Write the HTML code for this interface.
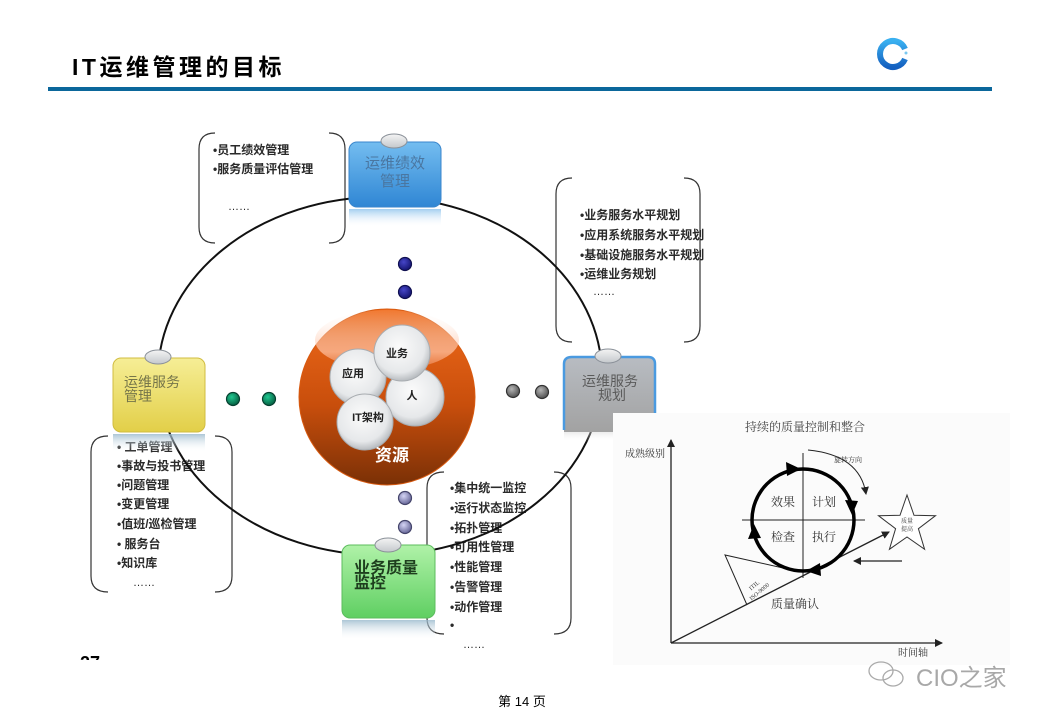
<!DOCTYPE html>
<html><head><meta charset="utf-8"><style>
html,body{margin:0;padding:0;background:#fff;}
svg{display:block;}
.cj{font-family:"Liberation Sans","Noto Sans CJK SC",sans-serif;}
.sf{font-family:"Liberation Serif","Noto Serif CJK SC",serif;}
</style></head><body>
<svg width="1040" height="720" viewBox="0 0 1040 720" xmlns="http://www.w3.org/2000/svg">
<defs>
<linearGradient id="gBlue" x1="0" y1="0" x2="0" y2="1"><stop offset="0" stop-color="#74bdf0"/><stop offset="1" stop-color="#2f86d4"/></linearGradient>
<linearGradient id="gYel" x1="0" y1="0" x2="0" y2="1"><stop offset="0" stop-color="#f6ee96"/><stop offset="1" stop-color="#e2cf48"/></linearGradient>
<linearGradient id="gGrn" x1="0" y1="0" x2="0" y2="1"><stop offset="0" stop-color="#b0f2a8"/><stop offset="1" stop-color="#5fcf62"/></linearGradient>
<linearGradient id="gGray" x1="0" y1="0" x2="0" y2="1"><stop offset="0" stop-color="#b8bcc2"/><stop offset="1" stop-color="#a2a2a2"/></linearGradient>
<linearGradient id="rBlue" x1="0" y1="0" x2="0" y2="1"><stop offset="0" stop-color="#8cc2ec" stop-opacity=".8"/><stop offset="1" stop-color="#ffffff" stop-opacity="0"/></linearGradient>
<linearGradient id="rCyan" x1="0" y1="0" x2="0" y2="1"><stop offset="0" stop-color="#98b8cc" stop-opacity=".8"/><stop offset="1" stop-color="#ffffff" stop-opacity="0"/></linearGradient>
<linearGradient id="rGray" x1="0" y1="0" x2="0" y2="1"><stop offset="0" stop-color="#a4a4a4"/><stop offset="1" stop-color="#ffffff" stop-opacity="0"/></linearGradient>
<linearGradient id="gKnob" x1="0" y1="0" x2="0" y2="1"><stop offset="0" stop-color="#f4f4f4"/><stop offset="1" stop-color="#c4c8cc"/></linearGradient>
<linearGradient id="gOrange" x1="0" y1="0" x2="0" y2="1"><stop offset="0" stop-color="#f06a1a"/><stop offset=".55" stop-color="#c84e0c"/><stop offset="1" stop-color="#7a3006"/></linearGradient>
<linearGradient id="gHi" x1="0" y1="0" x2="0" y2="1"><stop offset="0" stop-color="#ffffff" stop-opacity=".1"/><stop offset=".7" stop-color="#ffc0a0" stop-opacity=".75"/><stop offset="1" stop-color="#ffb090" stop-opacity=".3"/></linearGradient>
<radialGradient id="gBub" cx=".45" cy=".4" r=".6"><stop offset="0" stop-color="#fbfbfb"/><stop offset=".75" stop-color="#e6e8ea"/><stop offset="1" stop-color="#b8bcc0"/></radialGradient>
<radialGradient id="dNavy" cx=".4" cy=".35" r=".6"><stop offset="0" stop-color="#4646c8"/><stop offset="1" stop-color="#181878"/></radialGradient>
<radialGradient id="dGrn" cx=".4" cy=".35" r=".6"><stop offset="0" stop-color="#20c890"/><stop offset="1" stop-color="#086848"/></radialGradient>
<radialGradient id="dGray" cx=".4" cy=".35" r=".6"><stop offset="0" stop-color="#b4b4b4"/><stop offset="1" stop-color="#5a5a5a"/></radialGradient>
<radialGradient id="dLav" cx=".4" cy=".35" r=".6"><stop offset="0" stop-color="#d4d4f4"/><stop offset="1" stop-color="#7070a0"/></radialGradient>
<linearGradient id="gLogo" x1="0" y1="0" x2="0" y2="1"><stop offset="0" stop-color="#3ab0f0"/><stop offset="1" stop-color="#1460c0"/></linearGradient>
<marker id="ar" markerWidth="8" markerHeight="8" refX="7" refY="4" orient="auto" markerUnits="userSpaceOnUse"><path d="M0,0 L8,4 L0,8 z" fill="#222"/></marker>
<clipPath id="c27"><rect x="70" y="653" width="40" height="7"/></clipPath>
</defs>

<!-- Header -->
<text x="72" y="75" class="cj" font-size="23" font-weight="bold" letter-spacing="3.5" fill="#000">IT运维管理的目标</text>
<rect x="48" y="87" width="944" height="4" fill="#0b679b"/>
<path d="M905,49 A13,13 0 1 0 905,59" fill="none" stroke="url(#gLogo)" stroke-width="6"/>
<circle cx="906" cy="53" r="1.5" fill="#7ac8f0"/>

<!-- Bracket lists -->
<g fill="none" stroke="#333" stroke-width="1.2">
<path d="M215,133 Q199,133 199,149 L199,227 Q199,243 215,243"/>
<path d="M329,133 Q345,133 345,149 L345,227 Q345,243 329,243"/>
<path d="M572,178 Q556,178 556,194 L556,326 Q556,342 572,342"/>
<path d="M684,178 Q700,178 700,194 L700,326 Q700,342 684,342"/>
<path d="M108,436 Q91,436 91,452 L91,576 Q91,592 108,592"/>
<path d="M215,436 Q232,436 232,452 L232,576 Q232,592 215,592"/>
<path d="M444,472 Q427,472 427,488 L427,618 Q427,634 444,634"/>
<path d="M554,472 Q571,472 571,488 L571,618 Q571,634 554,634"/>
</g>
<g class="cj" font-size="12" font-weight="bold" fill="#2a2a2a">
<text x="213" y="154">•员工绩效管理</text>
<text x="213" y="173">•服务质量评估管理</text>
<text x="580" y="219">•业务服务水平规划</text>
<text x="580" y="239">•应用系统服务水平规划</text>
<text x="580" y="259">•基础设施服务水平规划</text>
<text x="580" y="278">•运维业务规划</text>
<text x="117" y="451">•  工单管理</text>
<text x="117" y="470">•事故与投书管理</text>
<text x="117" y="489">•问题管理</text>
<text x="117" y="508">•变更管理</text>
<text x="117" y="528">•值班/巡检管理</text>
<text x="117" y="548">•  服务台</text>
<text x="117" y="567">•知识库</text>
<text x="450" y="492">•集中统一监控</text>
<text x="450" y="512">•运行状态监控</text>
<text x="450" y="532">•拓扑管理</text>
<text x="450" y="551">•可用性管理</text>
<text x="450" y="571">•性能管理</text>
<text x="450" y="591">•告警管理</text>
<text x="450" y="611">•动作管理</text>
<text x="450" y="629">•</text>
</g>
<g font-family="Liberation Sans, sans-serif" font-size="11" fill="#222">
<text x="228" y="210">……</text>
<text x="593" y="295">……</text>
<text x="133" y="586">……</text>
<text x="463" y="648">……</text>
</g>

<!-- Big ellipse -->
<ellipse cx="380" cy="376" rx="222" ry="179" fill="none" stroke="#111" stroke-width="2"/>

<!-- Dots -->
<g stroke-width="1.2">
<circle cx="405" cy="264" r="6.5" fill="url(#dNavy)" stroke="#101050"/>
<circle cx="405" cy="292" r="6.5" fill="url(#dNavy)" stroke="#101050"/>
<circle cx="233" cy="399" r="6.5" fill="url(#dGrn)" stroke="#064030"/>
<circle cx="269" cy="399" r="6.5" fill="url(#dGrn)" stroke="#064030"/>
<circle cx="513" cy="391" r="6.5" fill="url(#dGray)" stroke="#333"/>
<circle cx="542" cy="392" r="6.5" fill="url(#dGray)" stroke="#333"/>
<circle cx="405" cy="498" r="6.5" fill="url(#dLav)" stroke="#44446a"/>
<circle cx="405" cy="527" r="6.5" fill="url(#dLav)" stroke="#44446a"/>
</g>

<!-- Central sphere -->
<circle cx="387" cy="397" r="88" fill="url(#gOrange)" stroke="#d85a10" stroke-width="1"/>
<ellipse cx="387" cy="340" rx="72" ry="30" fill="url(#gHi)"/>
<g stroke="#a8acb0" stroke-width="1">
<circle cx="415" cy="397" r="29" fill="url(#gBub)"/>
<circle cx="358" cy="377" r="28" fill="url(#gBub)"/>
<circle cx="402" cy="353" r="28" fill="url(#gBub)"/>
<circle cx="365" cy="422" r="28" fill="url(#gBub)"/>
</g>
<g class="cj" font-size="11" font-weight="bold" fill="#222" text-anchor="middle">
<text x="353" y="377">应用</text>
<text x="397" y="357">业务</text>
<text x="412" y="399">人</text>
<text x="368" y="421">IT架构</text>
</g>
<text x="392" y="461" class="cj" font-size="17" font-weight="bold" fill="#fff" text-anchor="middle">资源</text>

<!-- Blue box: 运维绩效管理 -->
<rect x="349" y="209" width="92" height="18" fill="url(#rBlue)"/>
<rect x="349" y="142" width="92" height="65" rx="8" fill="url(#gBlue)" stroke="#3a86cc" stroke-width="1"/>
<ellipse cx="394" cy="141" rx="13" ry="7" fill="url(#gKnob)" stroke="#8a9098"/>
<g class="cj" font-size="15" fill="#4a76a0" text-anchor="middle">
<text x="395" y="168">运维绩效</text>
<text x="395" y="186">管理</text>
</g>

<!-- Yellow box: 运维服务管理 -->
<rect x="113" y="434" width="92" height="18" fill="url(#rCyan)"/>
<rect x="113" y="358" width="92" height="74" rx="8" fill="url(#gYel)" stroke="#d0bc40" stroke-width="1"/>
<ellipse cx="158" cy="357" rx="13" ry="7" fill="url(#gKnob)" stroke="#8a9098"/>
<g class="cj" font-size="14" fill="#75754a">
<text x="124" y="387">运维服务</text>
<text x="124" y="401">管理</text>
</g>

<!-- Green box: 业务质量监控 -->
<rect x="342" y="620" width="93" height="20" fill="url(#rCyan)"/>
<rect x="342" y="545" width="93" height="73" rx="8" fill="url(#gGrn)" stroke="#5cbc5e" stroke-width="1"/>
<ellipse cx="388" cy="545" rx="13" ry="7" fill="url(#gKnob)" stroke="#8a9098"/>
<g class="cj" font-size="16" font-weight="bold" fill="#1e3e1e">
<text x="354" y="573">业务质量</text>
<text x="354" y="588">监控</text>
</g>

<!-- Planning box: 运维服务规划 -->
<rect x="564" y="420" width="49" height="22" fill="url(#rGray)"/>
<path d="M564,364 Q564,357 572,357 L648,357 Q655,357 655,364 L655,432 L564,432 Z" fill="url(#gGray)"/>
<path d="M564,430 L564,364 Q564,357 572,357 L648,357 Q655,357 655,364 L655,414" fill="none" stroke="#4a9ae0" stroke-width="2.5"/>
<ellipse cx="608" cy="356" rx="13" ry="7" fill="url(#gKnob)" stroke="#8a9098"/>
<g class="cj" font-size="14" fill="#5a5a5a" text-anchor="middle">
<text x="610" y="386">运维服务</text>
<text x="612" y="400">规划</text>
</g>

<!-- Chart -->
<rect x="613" y="413" width="397" height="252" fill="#fbfbfb"/>
<text x="805" y="431" class="sf" font-size="12" fill="#444" text-anchor="middle">持续的质量控制和整合</text>
<g stroke="#222" stroke-width="1.3" fill="none">
<line x1="671" y1="643" x2="671" y2="440" marker-end="url(#ar)"/>
<line x1="671" y1="643" x2="942" y2="643" marker-end="url(#ar)"/>
<line x1="671" y1="643" x2="889" y2="532" marker-end="url(#ar)"/>
<line x1="902" y1="561" x2="854" y2="561" marker-end="url(#ar)"/>
<line x1="742" y1="520" x2="865" y2="520" stroke-width="1"/>
<line x1="803" y1="453" x2="803" y2="578" stroke-width="1"/>
<path d="M747,605 L725,555 L792,570" stroke-width="1"/>
<path d="M808,450 Q860,455 866,494" stroke-width="1" marker-end="url(#ar)"/>
</g>
<circle cx="803" cy="520" r="51" fill="none" stroke="#000" stroke-width="3.5"/>
<g fill="#000">
<path d="M801,469 L786,462 L787,476 Z"/>
<path d="M852,515 L845,500 L858,501 Z"/>
<path d="M806,571 L820,563 L821,576 Z"/>
<path d="M754,524 L748,539 L761,538 Z"/>
</g>
<polygon points="907,495 914,515.3 935.5,515.7 918.4,528.7 924.6,549.3 907,537 889.4,549.3 895.6,528.7 878.5,515.7 900,515.3" fill="#fff" stroke="#333" stroke-width="1"/>
<g class="sf" fill="#333">
<text x="645" y="457" font-size="10" text-anchor="middle">成熟级别</text>
<text x="913" y="656" font-size="10" text-anchor="middle">时间轴</text>
<text x="783" y="506" font-size="12" text-anchor="middle">效果</text>
<text x="824" y="506" font-size="12" text-anchor="middle">计划</text>
<text x="783" y="541" font-size="12" text-anchor="middle">检查</text>
<text x="824" y="541" font-size="12" text-anchor="middle">执行</text>
<text x="795" y="608" font-size="12" text-anchor="middle">质量确认</text>
<text x="848" y="462" font-size="7" text-anchor="middle">旋转方向</text>
<text x="907" y="523" font-size="6" text-anchor="middle">质量</text>
<text x="907" y="531" font-size="6" text-anchor="middle">提高</text>
<g transform="translate(758,590) rotate(-40)" font-size="6" text-anchor="middle"><text x="0" y="-4">ITIL</text><text x="0" y="4">ISO-9000</text></g>
</g>

<!-- Footer -->
<text x="80" y="669" clip-path="url(#c27)" font-family="Liberation Sans, sans-serif" font-size="18" font-weight="bold" fill="#000">27</text>
<g fill="none" stroke="#aaa" stroke-width="1.3">
<ellipse cx="881" cy="671" rx="12" ry="9"/>
<ellipse cx="893" cy="678" rx="10" ry="8"/>
</g>
<text x="916" y="686" class="cj" font-size="24" fill="#a8a8a8">CIO之家</text>
<text x="522" y="706" class="cj" font-size="13" fill="#000" text-anchor="middle">第 14 页</text>
</svg>
</body></html>
